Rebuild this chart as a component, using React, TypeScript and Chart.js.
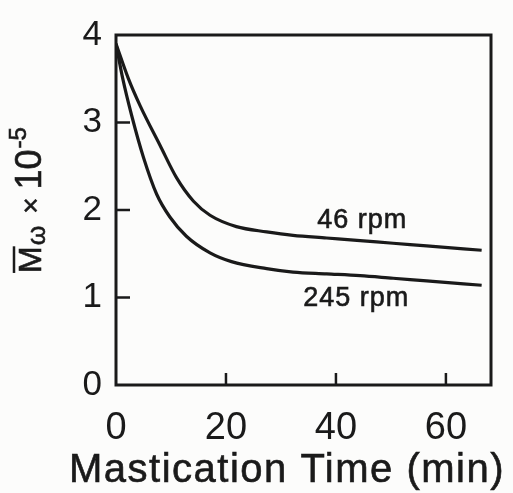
import React, { useEffect, useRef } from 'react';
import { Chart, registerables } from 'chart.js';

Chart.register(...registerables);

// ---- data ----
const xTickValues = [0, 20, 40, 60];
const yTickValues = [0, 1, 2, 3, 4];

const time46 = [0, 2.2, 4.4, 8.0, 11.0, 14.1, 17.1, 21.9, 27.4, 32.2, 38.3, 44.4, 50.4, 56.5, 66.5];
const mw46 = [3.9, 3.51, 3.19, 2.74, 2.37, 2.1, 1.94, 1.81, 1.75, 1.71, 1.68, 1.65, 1.62, 1.59, 1.54];

const time245 = [0, 1.2, 2.85, 5.0, 7.4, 9.8, 12.8, 17.1, 21.0, 27.4, 32.2, 38.3, 44.4, 50.4, 56.5, 66.5];
const mw245 = [3.9, 3.51, 3.08, 2.6, 2.18, 1.92, 1.7, 1.51, 1.41, 1.33, 1.29, 1.27, 1.25, 1.22, 1.19, 1.14];

const seriesNames = ['46 rpm', '245 rpm'];
const labelTimes = [44.8, 43.7];
const labelValues = [1.88, 0.99];

const xTitle = 'Mastication Time (min)';

// ---- style ----
const BG = '#fcfcfb';
const INK = '#1a1a1a';
const FONT = '"Liberation Sans", Arial, sans-serif';

const decorPlugin = {
  id: 'decor',
  beforeDraw(chart: any) {
    const { ctx, width, height } = chart;
    ctx.save();
    ctx.fillStyle = BG;
    ctx.fillRect(0, 0, width, height);
    ctx.restore();
  },
  afterDraw(chart: any) {
    const { ctx, chartArea, scales } = chart;
    const { left, right, top, bottom } = chartArea;
    const x = scales.x;
    const y = scales.y;
    ctx.save();
    ctx.strokeStyle = INK;
    ctx.fillStyle = INK;
    ctx.lineCap = 'butt';
    ctx.lineWidth = 3;
    ctx.strokeRect(left, top, right - left, bottom - top);

    // inward tick marks
    ctx.lineWidth = 2.5;
    xTickValues.forEach((v) => {
      if (v === 0) return;
      const px = x.getPixelForValue(v);
      ctx.beginPath();
      ctx.moveTo(px, bottom);
      ctx.lineTo(px, bottom - 12);
      ctx.stroke();
    });
    yTickValues.forEach((v) => {
      if (v === 0 || v === 4) return;
      const py = y.getPixelForValue(v);
      ctx.beginPath();
      ctx.moveTo(left, py);
      ctx.lineTo(left + 14, py);
      ctx.stroke();
    });

    // series labels
    ctx.font = `27px ${FONT}`;
    (ctx as any).letterSpacing = '1px';
    ctx.textAlign = 'center';
    ctx.textBaseline = 'middle';
    ctx.lineWidth = 0.6;
    seriesNames.forEach((name, i) => {
      const px = x.getPixelForValue(labelTimes[i]);
      const py = y.getPixelForValue(labelValues[i]);
      ctx.fillText(name, px, py);
      ctx.strokeText(name, px, py);
    });

    // x title
    ctx.font = `40px ${FONT}`;
    (ctx as any).letterSpacing = '1.5px';
    ctx.textAlign = 'center';
    ctx.textBaseline = 'alphabetic';
    ctx.fillText(xTitle, 287, 482);
    ctx.strokeText(xTitle, 287, 482);
    (ctx as any).letterSpacing = '0px';

    // y title: M̄_ω × 10^-5 (rotated)
    ctx.translate(41, 200);
    ctx.rotate(-Math.PI / 2);
    ctx.textAlign = 'left';
    ctx.textBaseline = 'alphabetic';
    const parts = [
      { t: 'M', size: 32, dy: 0, gap: 0 },
      { t: 'ω', size: 25, dy: 4, gap: 1 },
      { t: '×', size: 28, dy: -1, gap: 12 },
      { t: '10', size: 36, dy: 0, gap: 8 },
      { t: '-5', size: 24, dy: -15, gap: 1 },
    ];
    let total = 0;
    const widths = parts.map((p) => {
      ctx.font = `${p.size}px ${FONT}`;
      const w = ctx.measureText(p.t).width;
      total += w + p.gap;
      return w;
    });
    let cx = -total / 2;
    parts.forEach((p, i) => {
      cx += p.gap;
      ctx.font = `${p.size}px ${FONT}`;
      ctx.fillText(p.t, cx, p.dy);
      ctx.strokeText(p.t, cx, p.dy);
      if (i === 0) {
        ctx.lineWidth = 2.5;
        ctx.beginPath();
        ctx.moveTo(cx, -27);
        ctx.lineTo(cx + widths[i], -27);
        ctx.stroke();
        ctx.lineWidth = 0.6;
      }
      cx += widths[i];
    });
    ctx.restore();
  },
};

export default function App() {
  const ref = useRef<HTMLCanvasElement | null>(null);
  useEffect(() => {
    document.body.style.margin = '0';
    const canvas = ref.current;
    if (!canvas) return;
    const chart = new Chart(canvas, {
      type: 'line',
      data: {
        datasets: [
          {
            label: seriesNames[0],
            data: time46.map((t, i) => ({ x: t, y: mw46[i] })),
            borderColor: INK,
            borderWidth: 3.2,
            pointRadius: 0,
            cubicInterpolationMode: 'monotone',
            fill: false,
          },
          {
            label: seriesNames[1],
            data: time245.map((t, i) => ({ x: t, y: mw245[i] })),
            borderColor: INK,
            borderWidth: 3.2,
            pointRadius: 0,
            cubicInterpolationMode: 'monotone',
            fill: false,
          },
        ],
      },
      options: {
        responsive: false,
        devicePixelRatio: 1,
        animation: false,
        events: [],
        layout: { padding: { top: 28, right: 22, left: 0, bottom: 0 } },
        plugins: { legend: { display: false }, tooltip: { enabled: false }, title: { display: false } },
        scales: {
          x: {
            type: 'linear',
            min: 0,
            max: 68.2,
            grid: { display: false, drawTicks: false },
            border: { display: false },
            afterFit: (s: any) => { s.height = 108; },
            afterBuildTicks: (s: any) => { s.ticks = xTickValues.map((v) => ({ value: v })); },
            ticks: {
              color: INK,
              font: { family: FONT, size: 38 },
              padding: 21,
              maxRotation: 0,
              autoSkip: false,
            },
          },
          y: {
            type: 'linear',
            min: 0,
            max: 4,
            grid: { display: false, drawTicks: false },
            border: { display: false },
            afterFit: (s: any) => { s.width = 116; },
            afterBuildTicks: (s: any) => { s.ticks = yTickValues.map((v) => ({ value: v })); },
            ticks: {
              color: INK,
              font: { family: FONT, size: 35 },
              padding: 14,
              autoSkip: false,
            },
          },
        },
      },
      plugins: [decorPlugin],
    } as any);
    return () => chart.destroy();
  }, []);
  return (
    <div style={{ width: 513, height: 493 }}>
      <canvas ref={ref} width={513} height={493} style={{ display: 'block' }} />
    </div>
  );
}
